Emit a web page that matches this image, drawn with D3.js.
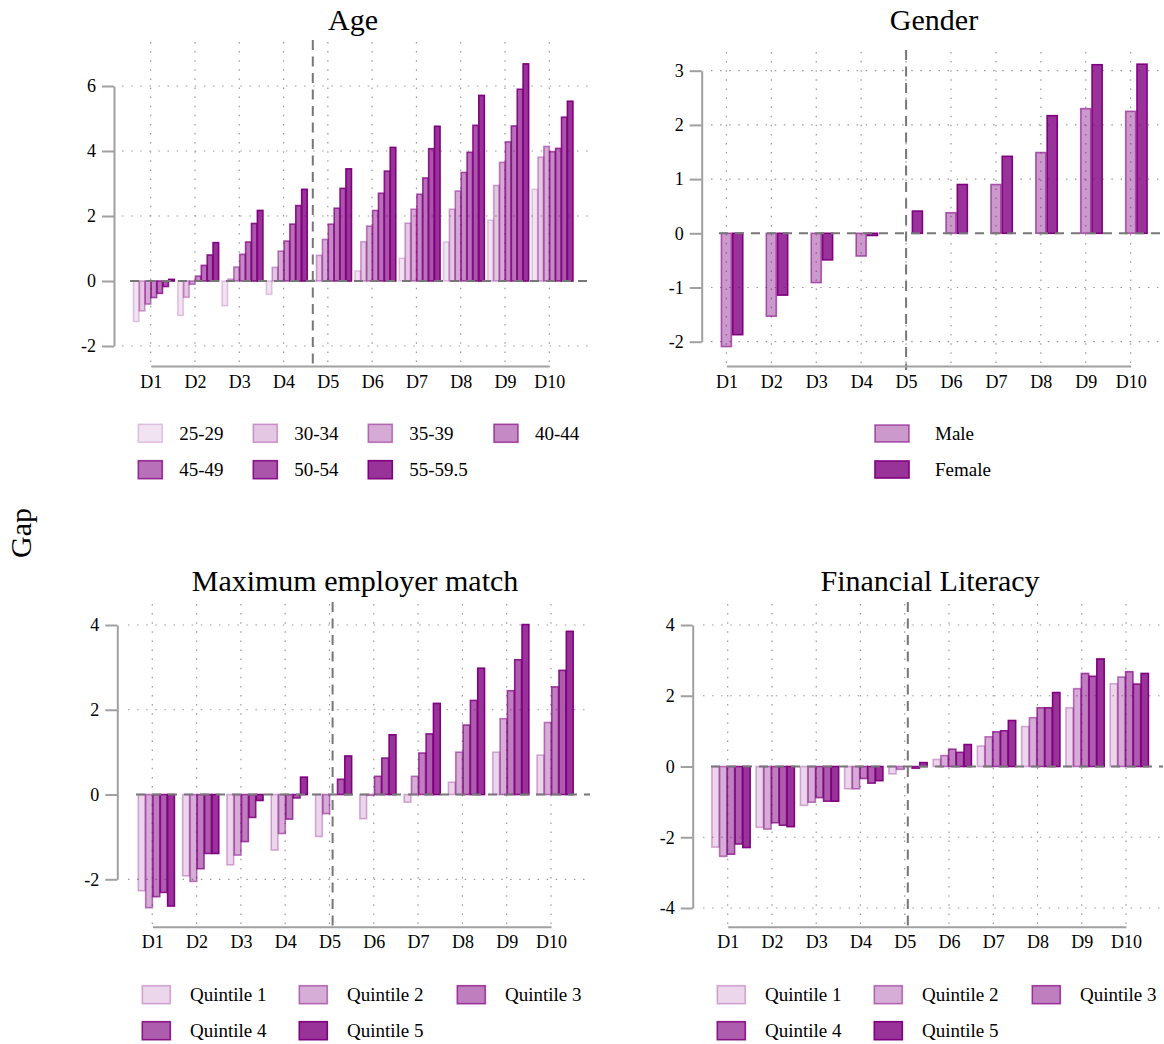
<!DOCTYPE html>
<html>
<head>
<meta charset="utf-8">
<script src="https://cdn.jsdelivr.net/npm/d3@7"></script>
<style>
  body { margin: 0; background: #fff; }
  svg text { font-family: 'Liberation Serif', 'Times New Roman', serif; fill: #000; }
</style>
</head>
<body>
<svg id="chart" width="1164" height="1044" font-family="Liberation Serif"></svg>
<script>
// ---- data ----
const deciles = ['D1', 'D2', 'D3', 'D4', 'D5', 'D6', 'D7', 'D8', 'D9', 'D10'];

const ageGroups = ['25-29', '30-34', '35-39', '40-44', '45-49', '50-54', '55-59.5'];
const ageGap = [
  [-1.25, -1.06, -0.76, -0.41, 0.02, 0.31, 0.70, 1.20, 1.87, 2.82],
  [-0.92, -0.50, 0.06, 0.42, 0.79, 1.21, 1.78, 2.21, 2.94, 3.81],
  [-0.71, -0.10, 0.43, 0.92, 1.28, 1.69, 2.21, 2.77, 3.65, 4.14],
  [-0.51, 0.15, 0.82, 1.23, 1.75, 2.17, 2.67, 3.34, 4.28, 3.98],
  [-0.38, 0.48, 1.20, 1.75, 2.24, 2.70, 3.17, 3.96, 4.77, 4.08],
  [-0.17, 0.80, 1.77, 2.32, 2.85, 3.38, 4.07, 4.79, 5.90, 5.04],
  [0.05, 1.18, 2.17, 2.82, 3.45, 4.11, 4.76, 5.71, 6.68, 5.53]
];

const genders = ['Male', 'Female'];
const genderGap = [
  [-2.09, -1.53, -0.91, -0.42, 0.00, 0.38, 0.90, 1.49, 2.30, 2.25],
  [-1.87, -1.14, -0.49, -0.04, 0.41, 0.90, 1.42, 2.17, 3.11, 3.12]
];

const quintiles = ['Quintile 1', 'Quintile 2', 'Quintile 3', 'Quintile 4', 'Quintile 5'];
const matchGap = [
  [-2.27, -1.92, -1.66, -1.31, -0.99, -0.57, -0.18, 0.29, 1.00, 0.93],
  [-2.67, -2.05, -1.43, -0.92, -0.45, -0.02, 0.43, 1.00, 1.79, 1.70],
  [-2.41, -1.75, -1.11, -0.58, 0.00, 0.43, 0.98, 1.64, 2.45, 2.54],
  [-2.31, -1.39, -0.54, -0.08, 0.36, 0.86, 1.43, 2.22, 3.18, 2.93],
  [-2.63, -1.39, -0.14, 0.41, 0.91, 1.41, 2.15, 2.98, 4.01, 3.85]
];
const literacyGap = [
  [-2.28, -1.72, -1.10, -0.63, -0.21, 0.20, 0.58, 1.13, 1.66, 2.34],
  [-2.54, -1.77, -1.01, -0.63, -0.08, 0.31, 0.84, 1.38, 2.20, 2.53],
  [-2.48, -1.59, -0.88, -0.34, 0.00, 0.49, 0.98, 1.66, 2.63, 2.68],
  [-2.19, -1.66, -0.98, -0.47, -0.05, 0.40, 1.01, 1.66, 2.55, 2.33],
  [-2.29, -1.70, -0.98, -0.40, 0.11, 0.62, 1.30, 2.09, 3.04, 2.63]
];

const ageTicks = [-2, 0, 2, 4, 6];
const genderTicks = [-2, -1, 0, 1, 2, 3];
const matchTicks = [-2, 0, 2, 4];
const literacyTicks = [-4, -2, 0, 2, 4];

// ---- styles ----
const serif = 'Liberation Serif, Times New Roman, serif';
const purple = (a) => 'rgba(128,0,128,' + a + ')';
const ageFill = [0.11, 0.22, 0.33, 0.46, 0.56, 0.67, 0.8];
const ageLine = [0.2, 0.34, 0.48, 0.64, 0.76, 0.88, 1];
const genderFill = [0.4, 0.8];
const genderLine = [0.6, 1];
const quinFill = [0.16, 0.32, 0.5, 0.64, 0.8];
const quinLine = [0.3, 0.5, 0.7, 0.87, 1];

const svg = d3.select('#chart');

function drawPanel(p) {
  let x = d3.scaleLinear().domain([1, 10]).range(p.xRange);
  let y = d3.scaleLinear().domain(p.yDomain).range(p.yRange);
  let g = svg.append('g');

  // horizontal grid
  g.selectAll('.hg').data(p.ticks.filter(t => t !== 0)).enter().append('line')
    .attr('x1', p.plotX[0]).attr('x2', p.plotX[1])
    .attr('y1', d => y(d)).attr('y2', d => y(d))
    .attr('stroke', '#999').attr('stroke-width', 1.2)
    .attr('stroke-dasharray', '1.5,7.6');

  // vertical grid
  g.selectAll('.vg').data(d3.range(1, 11)).enter().append('line')
    .attr('x1', d => x(d)).attr('x2', d => x(d))
    .attr('y1', p.plotY[0]).attr('y2', p.plotY[1])
    .attr('stroke', '#999').attr('stroke-width', 1.2)
    .attr('stroke-dasharray', '1.5,7.6');

  // bars
  p.values.forEach(function (series, k) {
    g.append('g').selectAll('rect').data(series).enter().append('rect')
      .attr('x', (v, i) => x(i + 1 + p.off0 + k * p.step - p.barW / 2))
      .attr('width', x(1 + p.barW) - x(1))
      .attr('y', v => y(Math.max(0, v)))
      .attr('height', v => Math.abs(y(v) - y(0)))
      .attr('fill', purple(p.fill[k]))
      .attr('stroke', purple(p.line[k]))
      .attr('stroke-width', 1.6);
  });

  // zero line and reference line
  g.append('line')
    .attr('x1', p.plotX[0] + 8).attr('x2', p.plotX[1])
    .attr('y1', y(0)).attr('y2', y(0))
    .attr('stroke', '#777').attr('stroke-width', 2)
    .attr('stroke-dasharray', '9,7');
  g.append('line')
    .attr('x1', x(p.refLine)).attr('x2', x(p.refLine))
    .attr('y1', p.plotY[0] - 2).attr('y2', p.plotY[1] + 4)
    .attr('stroke', '#777').attr('stroke-width', 2)
    .attr('stroke-dasharray', '10,6.5');

  // y axis
  let yAxis = g.append('g')
    .attr('transform', 'translate(' + p.yAxisX + ',0)')
    .call(d3.axisLeft(y).tickValues(p.ticks).tickSize(12).tickSizeOuter(0).tickPadding(6)
      .tickFormat(d => String(d)));
  yAxis.attr('font-family', serif).attr('font-size', 18);
  yAxis.selectAll('path, line').attr('stroke', '#a0a0a0').attr('stroke-width', 2);
  yAxis.selectAll('text').attr('font-family', serif).attr('font-size', 18).attr('fill', '#000');

  // x axis
  let xAxis = g.append('g')
    .attr('transform', 'translate(0,' + p.xAxisY + ')')
    .call(d3.axisBottom(x).tickValues(d3.range(1, 11)).tickSize(0).tickPadding(9)
      .tickFormat(d => deciles[d - 1]));
  xAxis.attr('font-family', serif).attr('font-size', 18);
  xAxis.select('path').attr('stroke', '#a0a0a0').attr('stroke-width', 2);
  xAxis.selectAll('text').attr('font-family', serif).attr('font-size', 18).attr('fill', '#000');

  // title
  g.append('text')
    .attr('x', p.titleX).attr('y', p.titleY)
    .attr('text-anchor', 'middle')
    .attr('font-family', serif).attr('font-size', 30)
    .text(p.title);

  // legend
  p.labels.forEach(function (lab, k) {
    let col = k % p.legCols.length;
    let row = Math.floor(k / p.legCols.length);
    let lx = p.legCols[col];
    let ly = p.legRows[row];
    g.append('rect')
      .attr('x', lx).attr('y', ly)
      .attr('width', p.swW).attr('height', p.swH)
      .attr('fill', purple(p.fill[k]))
      .attr('stroke', purple(p.line[k]))
      .attr('stroke-width', 1.6);
    g.append('text')
      .attr('x', lx + p.textOff).attr('y', ly + p.swH / 2 + 6.5)
      .attr('font-family', serif).attr('font-size', 19)
      .text(lab);
  });
}

drawPanel({
  title: 'Age', titleX: 353, titleY: 30,
  values: ageGap, labels: ageGroups, fill: ageFill, line: ageLine,
  ticks: ageTicks, yDomain: [-2, 6], yRange: [346, 86],
  xRange: [150.7, 549.3], plotX: [122, 592], plotY: [42, 366],
  yAxisX: 114, xAxisY: 366, refLine: 4.66,
  off0: -0.327, step: 0.133, barW: 0.124,
  legCols: [138.3, 253.3, 368.3, 494], legRows: [424.3, 460.7], swW: 24, swH: 18, textOff: 41
});

drawPanel({
  title: 'Gender', titleX: 934, titleY: 30,
  values: genderGap, labels: genders, fill: genderFill, line: genderLine,
  ticks: genderTicks, yDomain: [-2, 3], yRange: [341.7, 70.7],
  xRange: [726.4, 1130.7], plotX: [711, 1163], plotY: [52, 366],
  yAxisX: 701.7, xAxisY: 366, refLine: 5.0,
  off0: 0, step: 0.252, barW: 0.223,
  legCols: [875], legRows: [425, 461], swW: 34, swH: 17, textOff: 60
});

drawPanel({
  title: 'Maximum employer match', titleX: 355, titleY: 591,
  values: matchGap, labels: quintiles, fill: quinFill, line: quinLine,
  ticks: matchTicks, yDomain: [-2, 4], yRange: [879.3, 625],
  xRange: [152.3, 551], plotX: [128, 590], plotY: [604, 926.7],
  yAxisX: 117.3, xAxisY: 926.7, refLine: 5.07,
  off0: -0.239, step: 0.1655, barW: 0.153,
  legCols: [142.3, 299.3, 457.3], legRows: [985.7, 1021.7], swW: 28, swH: 18, textOff: 47.7
});

drawPanel({
  title: 'Financial Literacy', titleX: 930, titleY: 591,
  values: literacyGap, labels: quintiles, fill: quinFill, line: quinLine,
  ticks: literacyTicks, yDomain: [-4, 4], yRange: [908, 625],
  xRange: [727.7, 1126], plotX: [703, 1163], plotY: [604, 926.7],
  yAxisX: 692.7, xAxisY: 926.7, refLine: 5.07,
  off0: -0.276, step: 0.175, barW: 0.165,
  legCols: [717.3, 874.3, 1032.3], legRows: [985.7, 1021.7], swW: 28, swH: 18, textOff: 47.7
});

// shared y title
svg.append('text')
  .attr('transform', 'translate(31,533) rotate(-90)')
  .attr('text-anchor', 'middle')
  .attr('font-family', serif).attr('font-size', 30)
  .text('Gap');
</script>
</body>
</html>
